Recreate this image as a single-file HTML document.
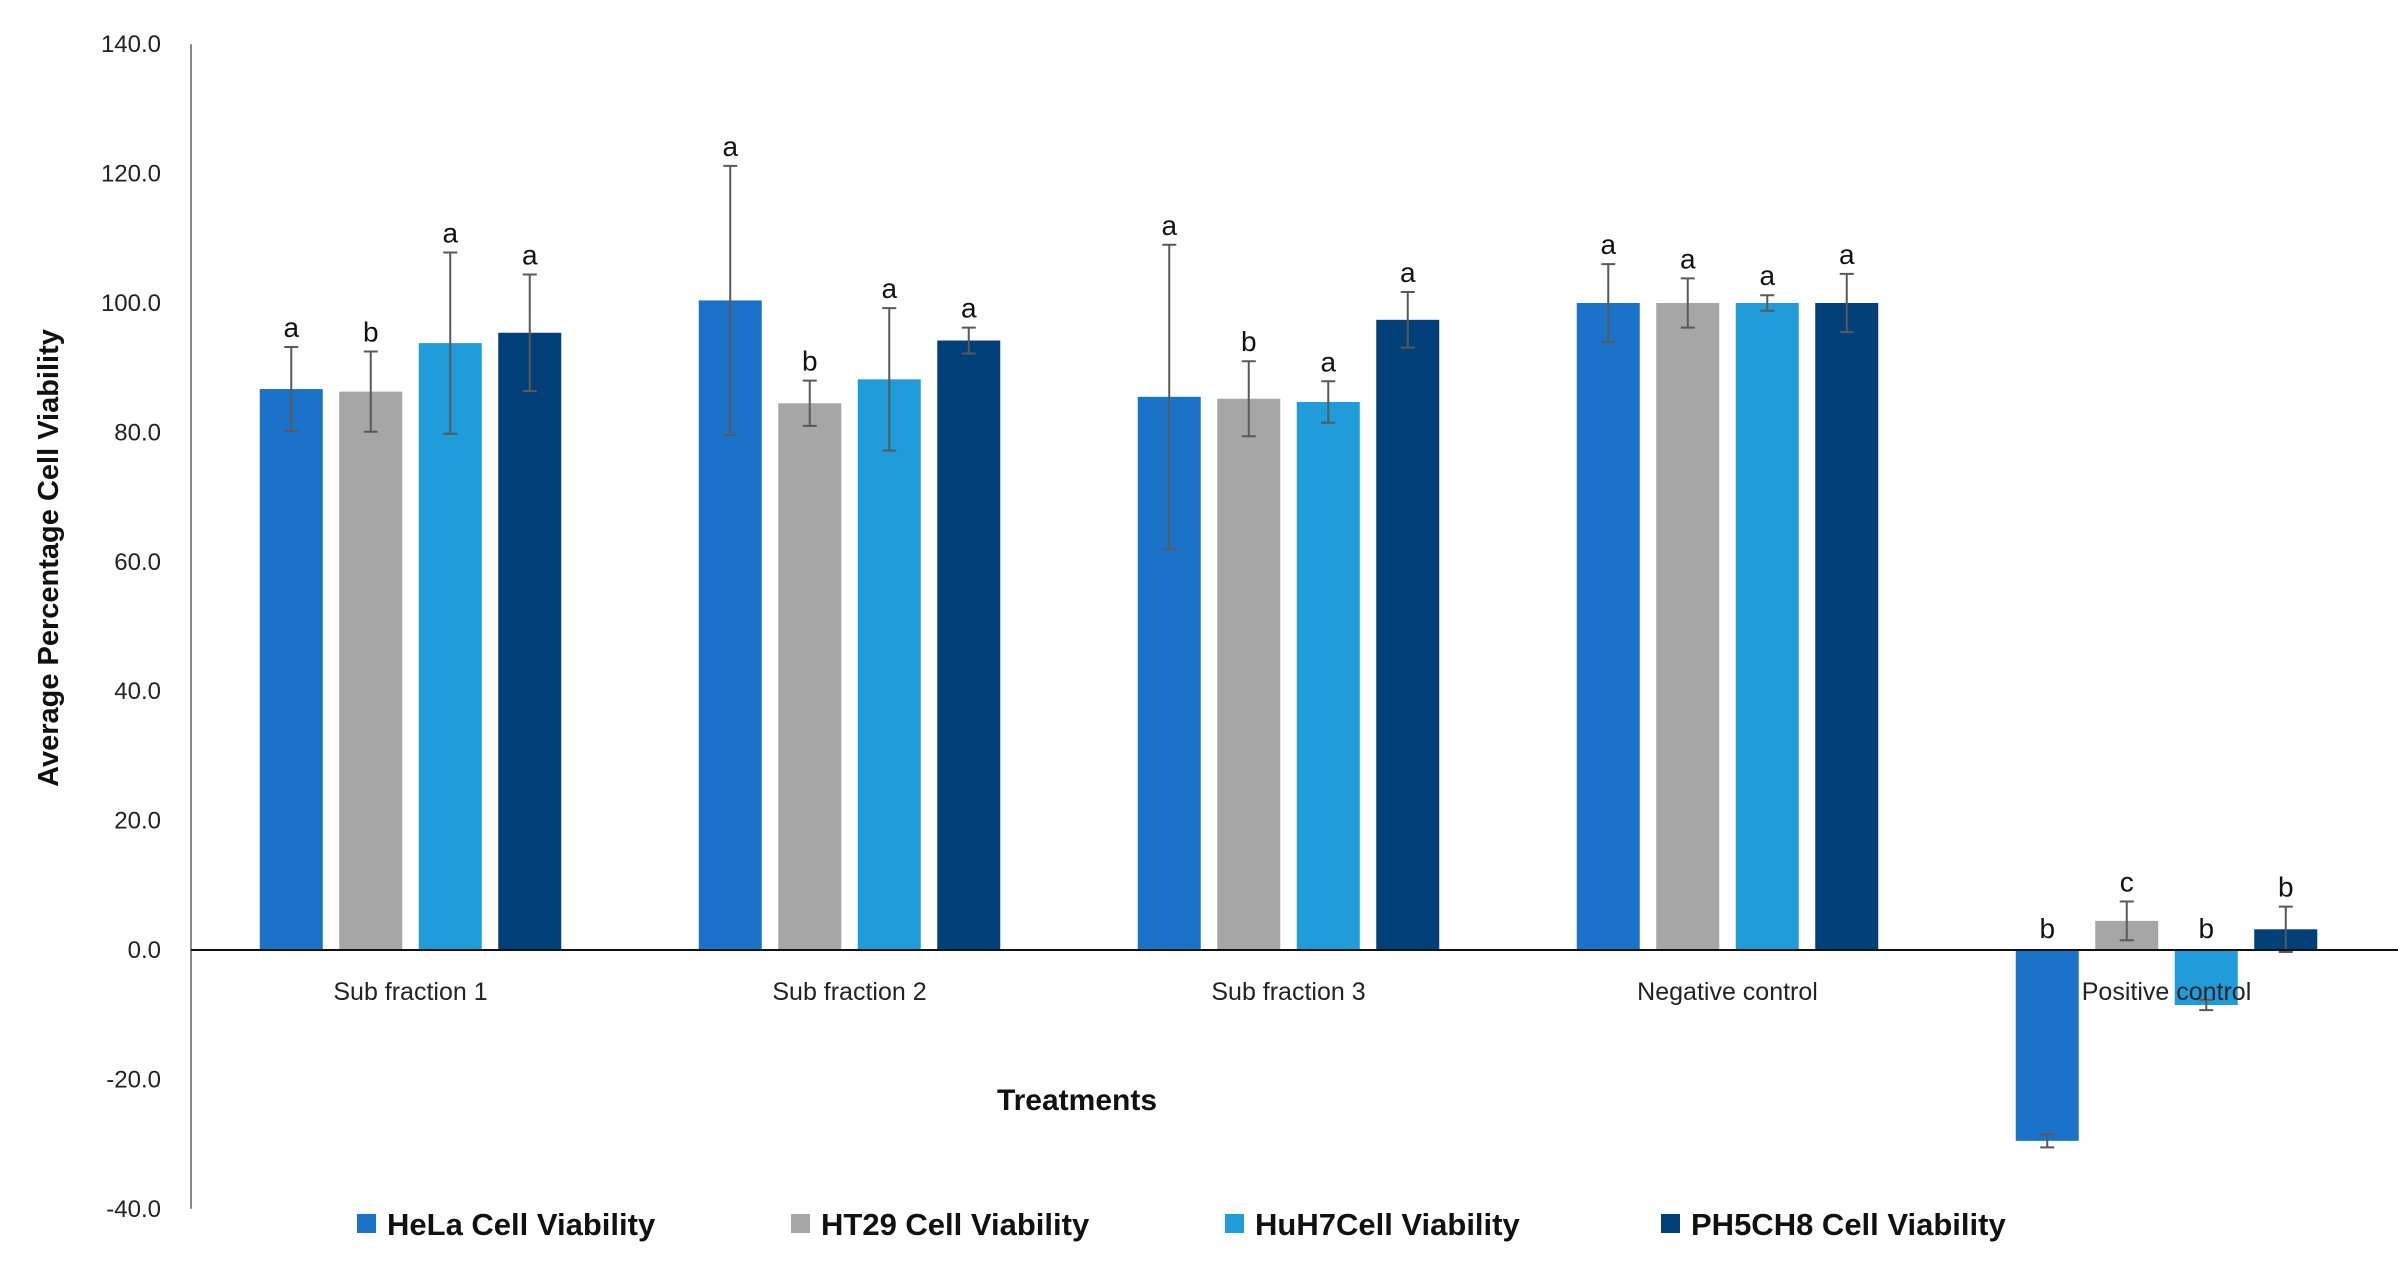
<!DOCTYPE html>
<html><head><meta charset="utf-8"><style>
body{margin:0;background:#fff;}
svg{display:block;font-family:"Liberation Sans",sans-serif;}
</style></head><body>
<svg id="chart" width="2398" height="1267"></svg>
<script>
const categories=["Sub fraction 1","Sub fraction 2","Sub fraction 3","Negative control","Positive control"];
const seriesNames=["HeLa Cell Viability","HT29 Cell Viability","HuH7Cell Viability","PH5CH8 Cell Viability"];
const helaValues=[86.7,100.4,85.5,100,-29.5];
const ht29Values=[86.3,84.5,85.2,100,4.5];
const huh7Values=[93.8,88.2,84.7,100,-8.5];
const ph5ch8Values=[95.4,94.2,97.4,100,3.2];
const helaErr=[6.5,20.8,23.5,6,1];
const ht29Err=[6.2,3.5,5.8,3.8,3];
const huh7Err=[14,11,3.2,1.2,0.8];
const ph5ch8Err=[9,2,4.3,4.5,3.5];
const helaLetters=["a","a","a","a","b"];
const ht29Letters=["b","b","b","a","c"];
const huh7Letters=["a","a","a","a","b"];
const ph5ch8Letters=["a","a","a","a","b"];
const yTicks=[-40,-20,0,20,40,60,80,100,120,140];
const colors=["#1a73c8","#a6a6a6","#1f9cd9","#003f77"];

const svg=document.getElementById('chart');
const NS="http://www.w3.org/2000/svg";
const axisX=191, yZero=950, pxPerUnit=129.4/20, catW=439;
const y=v=>yZero-v*pxPerUnit;
const catCenter=i=>axisX+catW*(i+0.5);
const barW=63, pitch=79.5;
function mk(tag,attrs,text){const e=document.createElementNS(NS,tag);for(const k in attrs)e.setAttribute(k,attrs[k]);if(text!==undefined)e.textContent=text;svg.appendChild(e);return e;}

yTicks.forEach(t=>{
  const e=mk('text',{x:161,y:y(t)+8,'text-anchor':'end','font-size':24,fill:'#222'},t.toFixed(1));
  
  
});
const ya=mk('line',{x1:axisX,x2:axisX,y1:y(140),y2:y(-40),stroke:'#888','stroke-width':2});



const vals=[helaValues,ht29Values,huh7Values,ph5ch8Values];
const errs=[helaErr,ht29Err,huh7Err,ph5ch8Err];
const lets=[helaLetters,ht29Letters,huh7Letters,ph5ch8Letters];
categories.forEach((c,i)=>{
  for(let s=0;s<4;s++){
    const v=vals[s][i], cx=catCenter(i)+(s-1.5)*pitch;
    const top=Math.min(y(v),yZero), h=Math.abs(y(v)-yZero);
    const b=mk('rect',{x:cx-barW/2,y:top,width:barW,height:h,fill:colors[s]});
    
    
    const e=errs[s][i], y1=y(v+e), y2=y(v-e);
    const g=mk('path',{d:`M${cx},${y1}V${y2}M${cx-7},${y1}H${cx+7}M${cx-7},${y2}H${cx+7}`,stroke:'#595959','stroke-width':2,fill:'none'});
    
    
    const ly=v>=0?y(v+e)-10:yZero-12;
    const l=mk('text',{x:cx,y:ly,'text-anchor':'middle','font-size':28,fill:'#111'},lets[s][i]);
    
    
  }
  const t=mk('text',{x:catCenter(i),y:1000,'text-anchor':'middle','font-size':25,fill:'#222'},c);
  
  
});
const xa=mk('line',{x1:axisX,x2:2398,y1:yZero,y2:yZero,stroke:'#111','stroke-width':2});



const yt=mk('text',{x:0,y:0,transform:'translate(58,558) rotate(-90)','text-anchor':'middle','font-size':29,'font-weight':'bold',fill:'#111'},'Average Percentage Cell Viability');


const xt=mk('text',{x:1077,y:1110,'text-anchor':'middle','font-size':30,'font-weight':'bold',fill:'#111'},'Treatments');



const legX=[357,791,1225,1661];
seriesNames.forEach((n,s)=>{
  const r=mk('rect',{x:legX[s],y:1214,width:19,height:19,fill:colors[s]});
  
  
  const t=mk('text',{x:legX[s]+30,y:1235,'font-size':31,'font-weight':'bold',fill:'#111'},n);
  
  
});
</script>
</body></html>
